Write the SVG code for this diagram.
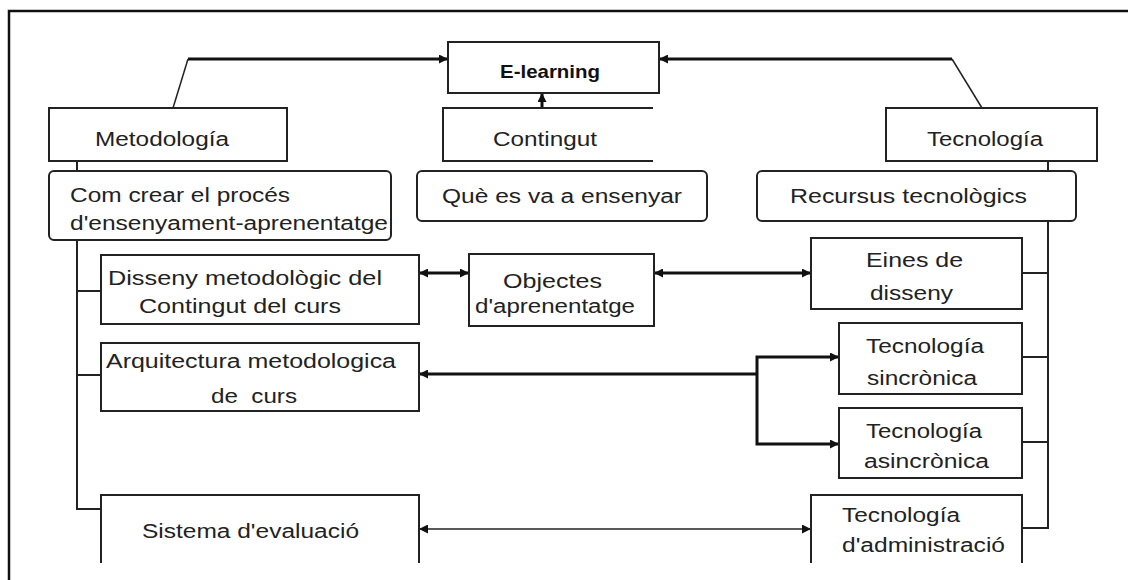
<svg xmlns="http://www.w3.org/2000/svg" width="1128" height="580" viewBox="0 0 1128 580">
<defs>
<marker id="ah" viewBox="0 0 10 10" refX="10" refY="5" markerWidth="10" markerHeight="9" markerUnits="userSpaceOnUse" orient="auto-start-reverse"><path d="M0,0 L10,5 L0,10 Z" fill="#111"/></marker>
</defs>
<style>
.b{fill:#fff;stroke:#222;stroke-width:2}
.o{fill:none;stroke:#222;stroke-width:2}
.c{fill:none;stroke:#111;stroke-width:3}
.t{fill:none;stroke:#222;stroke-width:1.5}
text{font-family:"Liberation Sans",Arial,sans-serif;font-size:20px;fill:#222}
.bold{font-weight:bold;font-size:19px;fill:#111}
</style>
<rect width="1128" height="580" fill="#fff"/>
<path d="M9,580 V11 H1128" fill="none" stroke="#111" stroke-width="2.5"/>

<g id="connectors">
<path class="c" d="M188,59 H448" marker-end="url(#ah)"/>
<path class="t" d="M173,108 L188,59"/>
<path class="c" d="M952,59 H659" marker-end="url(#ah)"/>
<path class="t" d="M982,108 L952,59"/>
<path class="c" d="M542,109 V93" marker-end="url(#ah)"/>
<path class="o" d="M77,161 V171"/>
<path class="o" d="M1048,161 V171"/>
<path class="o" d="M77,240 V509 H101 M77,291 H101 M77,375 H101"/>
<path class="o" d="M1048,221 V528 H1022 M1048,273 H1022 M1048,357 H1022 M1048,442 H1022"/>
<path class="c" d="M419,273 H469" marker-start="url(#ah)" marker-end="url(#ah)"/>
<path class="c" d="M654,273 H811" marker-start="url(#ah)" marker-end="url(#ah)"/>
<path class="c" d="M757,374 H419" marker-end="url(#ah)"/>
<path class="c" d="M839,357 H757 V444 H839" marker-start="url(#ah)" marker-end="url(#ah)"/>
<path class="t" d="M419,529 H811" marker-start="url(#ah)" marker-end="url(#ah)"/>
</g>

<g id="elearning">
<rect class="b" x="448" y="42" width="211" height="51"/>
<text class="bold" x="500" y="78" textLength="100" lengthAdjust="spacingAndGlyphs">E-learning</text>
</g>
<g id="metodologia">
<rect class="b" x="49" y="108" width="238" height="53"/>
<text x="95" y="146" textLength="134" lengthAdjust="spacingAndGlyphs">Metodología</text>
</g>
<g id="contingut">
<path class="o" d="M653,108 H443 V161 H653"/>
<text x="493" y="146" textLength="104" lengthAdjust="spacingAndGlyphs">Contingut</text>
</g>
<g id="tecnologia">
<rect class="b" x="886" y="108" width="211" height="53"/>
<text x="927" y="146" textLength="116" lengthAdjust="spacingAndGlyphs">Tecnología</text>
</g>
<g id="comcrear">
<rect class="b" x="49" y="171" width="342" height="69" rx="5"/>
<text x="70" y="202" textLength="220" lengthAdjust="spacingAndGlyphs">Com crear el procés</text>
<text x="70" y="230" textLength="318" lengthAdjust="spacingAndGlyphs">d'ensenyament-aprenentatge</text>
</g>
<g id="que">
<rect class="b" x="417" y="171" width="290" height="50" rx="5"/>
<text x="442" y="203" textLength="240" lengthAdjust="spacingAndGlyphs">Què es va a ensenyar</text>
</g>
<g id="recursos">
<rect class="b" x="757" y="171" width="319" height="50" rx="5"/>
<text x="790" y="203" textLength="237" lengthAdjust="spacingAndGlyphs">Recursus tecnològics</text>
</g>
<g id="disseny">
<rect class="b" x="101" y="255" width="318" height="69"/>
<text x="108" y="285" textLength="274" lengthAdjust="spacingAndGlyphs">Disseny metodològic del</text>
<text x="139" y="313" textLength="202" lengthAdjust="spacingAndGlyphs">Contingut del curs</text>
</g>
<g id="arquitectura">
<rect class="b" x="101" y="343" width="318" height="68"/>
<text x="106" y="368" textLength="290" lengthAdjust="spacingAndGlyphs">Arquitectura metodologica</text>
<text x="211" y="403" textLength="86" lengthAdjust="spacingAndGlyphs" xml:space="preserve">de  curs</text>
</g>
<g id="sistema">
<path class="o" d="M101,563 V495 H419 V563"/>
<text x="142" y="538" textLength="217" lengthAdjust="spacingAndGlyphs">Sistema d'evaluació</text>
</g>
<g id="objectes">
<rect class="b" x="469" y="254" width="185" height="72"/>
<text x="503" y="288" textLength="99" lengthAdjust="spacingAndGlyphs">Objectes</text>
<text x="475" y="313" textLength="160" lengthAdjust="spacingAndGlyphs">d'aprenentatge</text>
</g>
<g id="eines">
<rect class="b" x="811" y="238" width="211" height="71"/>
<text x="866" y="267" textLength="97" lengthAdjust="spacingAndGlyphs">Eines de</text>
<text x="870" y="300" textLength="83" lengthAdjust="spacingAndGlyphs">disseny</text>
</g>
<g id="sincronica">
<rect class="b" x="839" y="323" width="183" height="71"/>
<text x="866" y="353" textLength="118" lengthAdjust="spacingAndGlyphs">Tecnología</text>
<text x="867" y="385" textLength="110" lengthAdjust="spacingAndGlyphs">sincrònica</text>
</g>
<g id="asincronica">
<rect class="b" x="839" y="408" width="183" height="70"/>
<text x="866" y="438" textLength="116" lengthAdjust="spacingAndGlyphs">Tecnología</text>
<text x="864" y="468" textLength="125" lengthAdjust="spacingAndGlyphs">asincrònica</text>
</g>
<g id="administracio">
<path class="o" d="M811,563 V495 H1022 V563"/>
<text x="842" y="522" textLength="118" lengthAdjust="spacingAndGlyphs">Tecnología</text>
<text x="842" y="552" textLength="163" lengthAdjust="spacingAndGlyphs">d'administració</text>
</g>
</svg>
